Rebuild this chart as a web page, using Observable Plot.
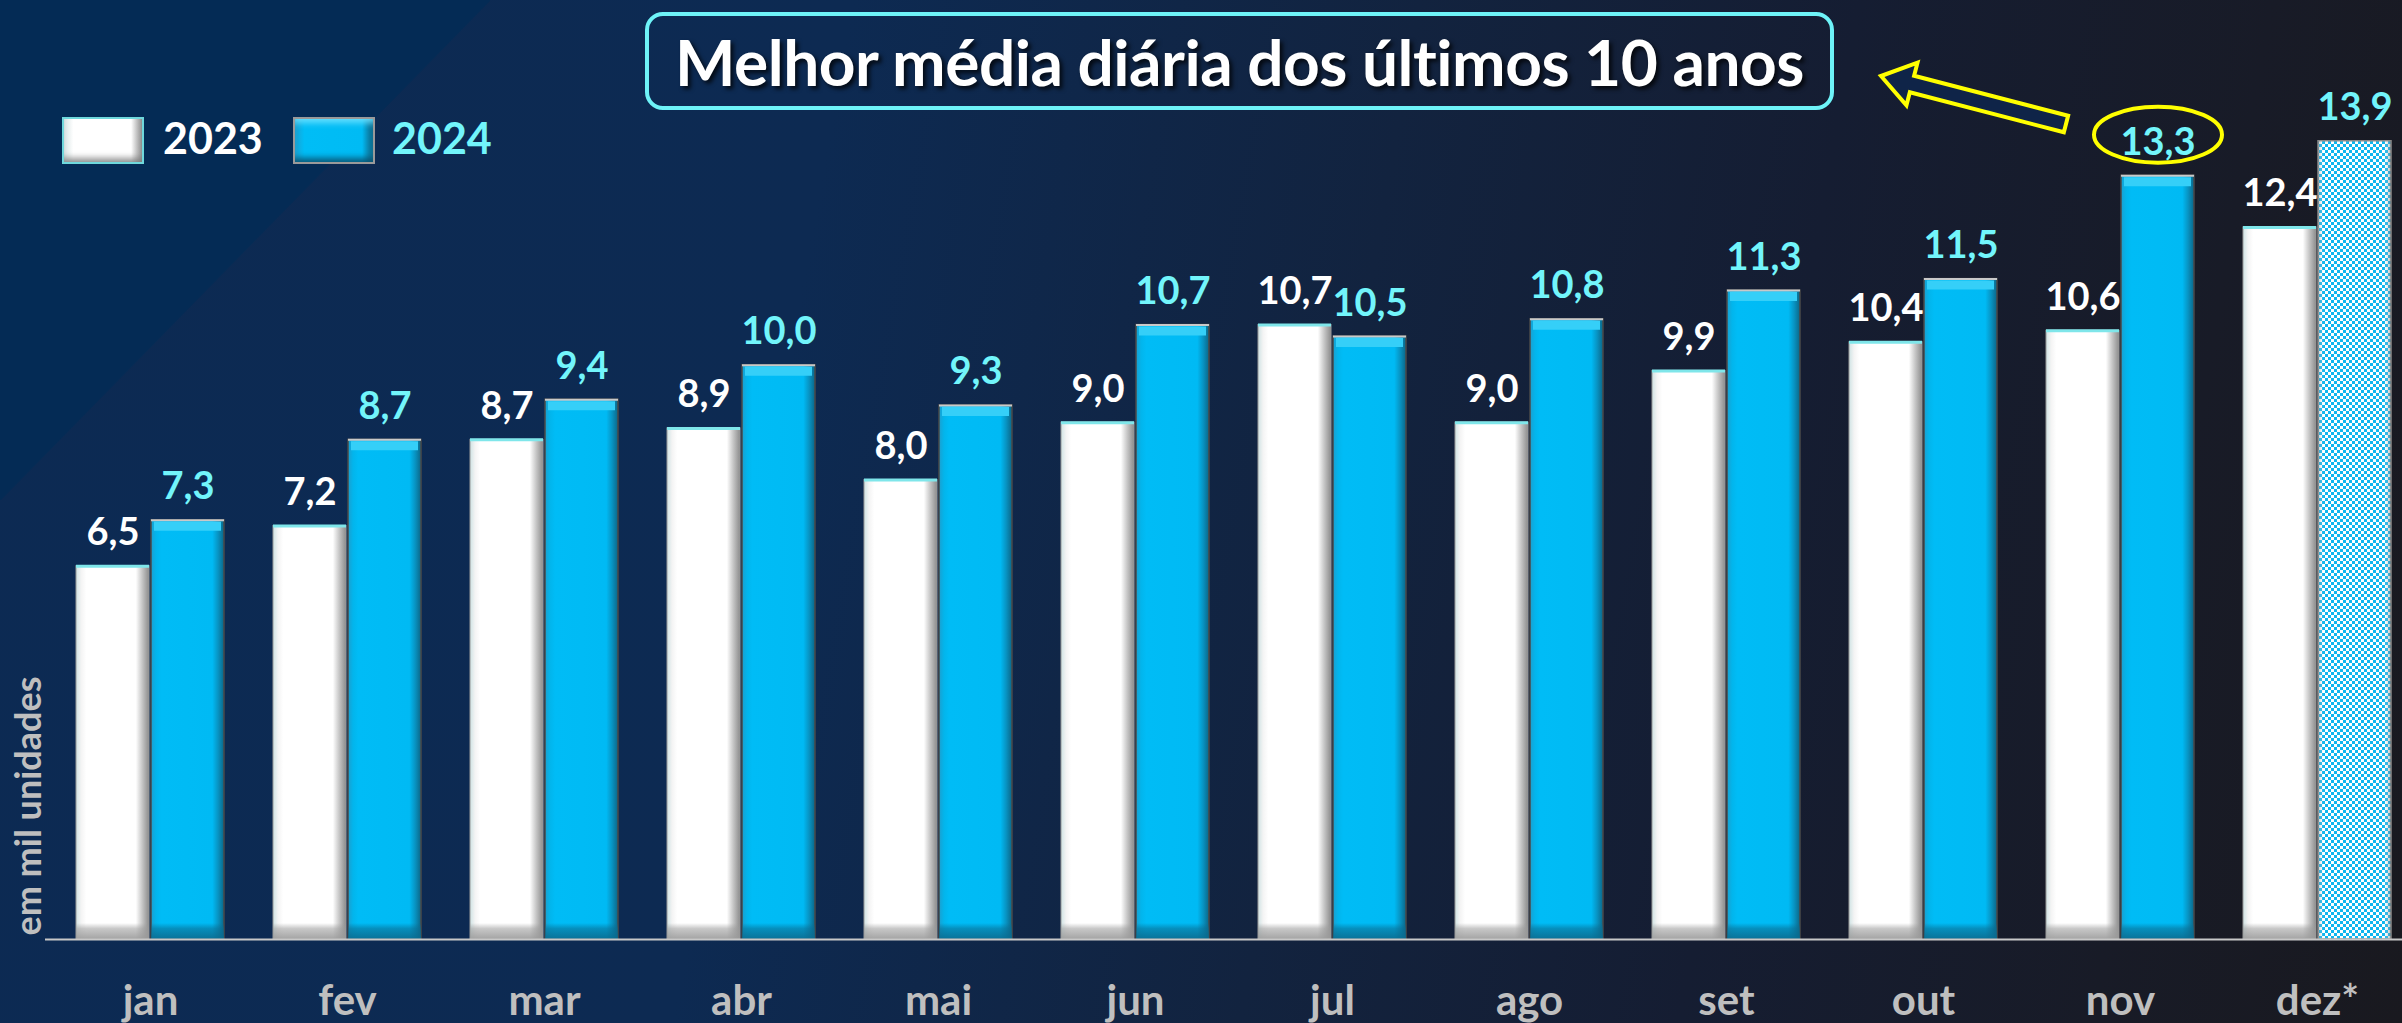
<!DOCTYPE html>
<html>
<head>
<meta charset="utf-8">
<script src="https://cdn.jsdelivr.net/npm/d3@7"></script>
<script src="https://cdn.jsdelivr.net/npm/@observablehq/plot@0.6"></script>
<style>
  html, body { margin: 0; padding: 0; }
  body { width: 2402px; height: 1023px; overflow: hidden; font-family: Lato, "Open Sans", sans-serif; }
  #stage {
    position: relative; width: 2402px; height: 1023px;
    background:
      linear-gradient(to bottom right, #042b55 50%, rgba(4,43,85,0) 50.2%) 0 0 / 490px 500px no-repeat,
      linear-gradient(100deg, #0c2a53 0%, #0d2a52 33%, #12233f 55%, #151d32 72%, #181b27 88%, #19191f 100%);
  }
  #chart { position: absolute; left: 0; top: 0; }
  #title {
    position: absolute; left: 645px; top: 12px; width: 1181px; height: 90px;
    border: 4px solid #6ef3f8; border-radius: 18px;
    display: flex; align-items: center; justify-content: center;
    color: #ffffff; font-weight: 700; font-size: 64px; letter-spacing: -0.5px;
    text-shadow: 3px 3px 4px rgba(0,0,0,0.75);
  }
  .sw { position: absolute; top: 117px; width: 82px; height: 47px; box-sizing: border-box; }
  #sw23 {
    left: 62px; border: 2px solid #6fd8dc;
    background: linear-gradient(to right, #d8e4e4 0%, #ffffff 12%, #ffffff 86%, #bdbdbd 94%, #8f8f8f 100%);
    box-shadow: inset 0 -8px 6px -4px rgba(120,120,120,0.8);
  }
  #sw24 {
    left: 293px; border: 2px solid #9a9a9a;
    background: linear-gradient(to right, #1aa2d3 0%, #00bdf6 12%, #00bbf4 86%, #0a86b0 94%, #0a6a8c 100%);
    box-shadow: inset 0 -8px 6px -4px rgba(10,80,110,0.9), inset 0 8px 6px -4px rgba(110,225,255,0.9);
  }
  .lt { position: absolute; top: 108px; font-size: 43px; font-weight: 700; line-height: 60px; }
  #lt23 { left: 163px; color: #ffffff; }
  #lt24 { left: 392px; color: #72f5fb; }
  #arrow { position: absolute; left: 0; top: 0; pointer-events: none; }
</style>
</head>
<body>
<div id="stage">
  <div id="chart"></div>
  <div id="title">Melhor média diária dos últimos 10 anos</div>
  <div class="sw" id="sw23"></div><div class="lt" id="lt23">2023</div>
  <div class="sw" id="sw24"></div><div class="lt" id="lt24">2024</div>
  <svg id="arrow" width="2402" height="1023"></svg>
</div>
<script>
// ---- data ----
const months = ["jan", "fev", "mar", "abr", "mai", "jun", "jul", "ago", "set", "out", "nov", "dez*"];
const v2023 = [6.5, 7.2, 8.7, 8.9, 8.0, 9.0, 10.7, 9.0, 9.9, 10.4, 10.6, 12.4];
const v2024 = [7.3, 8.7, 9.4, 10.0, 9.3, 10.7, 10.5, 10.8, 11.3, 11.5, 13.3, 13.9];
const highlightMonth = "nov";
const projectedMonth = "dez*";
const yTitle = "em mil unidades";

const rows = months.map((m, i) => ({month: m, v23: v2023[i], v24: v2024[i]}));
const fmt = v => v.toFixed(1).replace(".", ",");

// custom ellipse symbol
const ellipse = {
  draw(ctx) {
    const rx = 64, ry = 28, k = 0.5523;
    ctx.moveTo(rx, 0);
    ctx.bezierCurveTo(rx, ry * k, rx * k, ry, 0, ry);
    ctx.bezierCurveTo(-rx * k, ry, -rx, ry * k, -rx, 0);
    ctx.bezierCurveTo(-rx, -ry * k, -rx * k, -ry, 0, -ry);
    ctx.bezierCurveTo(rx * k, -ry, rx, -ry * k, rx, 0);
    ctx.closePath();
  }
};

const half = 75;
const font = "Lato, 'Open Sans', sans-serif";

const plot = Plot.plot({
  width: 2402,
  height: 1023,
  marginLeft: 45,
  marginRight: 0,
  marginTop: 135,
  marginBottom: 84,
  style: {background: "transparent", fontFamily: font, overflow: "visible"},
  x: {domain: months, paddingInner: 0.247, paddingOuter: 0.0785, align: 0.742, axis: null},
  y: {domain: [0, 14], axis: null},
  marks: [
    // 2023 bars
    Plot.barY(rows, {x: "month", y: "v23", insetRight: half, fill: "url(#whiteGrad)", stroke: "#9a9a9a", strokeWidth: 1}),
    Plot.barY(rows, {x: "month", y: "v23", insetRight: half, fill: "url(#bottomWhite)"}),
    Plot.tickY(rows, {x: "month", y: "v23", insetRight: half, stroke: "#7fe6ea", strokeWidth: 3}),
    // 2024 bars
    Plot.barY(rows, {filter: d => d.month !== projectedMonth, x: "month", y: "v24", insetLeft: half, fill: "url(#blueGrad)", stroke: "#4a4a4a", strokeWidth: 1.5}),
    Plot.barY(rows, {filter: d => d.month !== projectedMonth, x: "month", y: "v24", insetLeft: half, fill: "url(#bottomBlue)"}),
    Plot.tickY(rows, {filter: d => d.month !== projectedMonth, x: "month", y: "v24", insetLeft: half + 3, insetRight: 3, dy: 6, stroke: "#35cff8", strokeWidth: 9}),
    Plot.tickY(rows, {filter: d => d.month !== projectedMonth, x: "month", y: "v24", insetLeft: half, stroke: "#c9c9c9", strokeWidth: 2}),
    Plot.barY(rows, {filter: d => d.month === projectedMonth, x: "month", y: "v24", insetLeft: half, fill: "url(#checker)", stroke: "#8a8a8a", strokeWidth: 1.5}),
    Plot.barY(rows, {filter: d => d.month === projectedMonth, x: "month", y: "v24", insetLeft: half, fill: "url(#edgeShade)"}),
    // baseline
    Plot.ruleY([0], {stroke: "#c8c8c8", strokeWidth: 2}),
    // value labels
    Plot.text(rows, {x: "month", y: "v23", text: d => fmt(d.v23), dx: -half / 2, dy: -21, lineAnchor: "bottom", fill: "#ffffff", fontSize: 38, fontWeight: 700}),
    Plot.text(rows, {x: "month", y: "v24", text: d => fmt(d.v24), dx: half / 2, dy: -21, lineAnchor: "bottom", fill: "#72f5fb", fontSize: 38, fontWeight: 700}),
    // highlight ellipse
    Plot.dot(rows, {filter: d => d.month === highlightMonth, x: "month", y: "v24", dx: half / 2, dy: -41, symbol: ellipse, r: 10, fill: "none", stroke: "#ffff00", strokeWidth: 4}),
    // month axis
    Plot.axisX({tickSize: 0, tickPadding: 46, fontSize: 42, fontWeight: 700, fill: "#bfbfbf", label: null}),
    // y title
    Plot.text([yTitle], {frameAnchor: "bottom-left", rotate: -90, textAnchor: "start", lineAnchor: "middle", dx: -16, dy: -4, fill: "#bfbfbf", fontSize: 36, fontWeight: 700})
  ]
});

// gradients & patterns
const svg = d3.select(plot);
const defs = svg.insert("defs", ":first-child");
function hGrad(id, stops) {
  const g = defs.append("linearGradient").attr("id", id).attr("x1", 0).attr("x2", 1).attr("y1", 0).attr("y2", 0);
  stops.forEach(([o, c, a]) => g.append("stop").attr("offset", o).attr("stop-color", c).attr("stop-opacity", a == null ? 1 : a));
}
hGrad("whiteGrad", [[0, "#cfe3e4"], [0.07, "#f4f4f4"], [0.14, "#ffffff"], [0.82, "#ffffff"], [0.91, "#c4c4c4"], [1, "#8c8c8c"]]);
hGrad("blueGrad", [[0, "#1b9fcf"], [0.07, "#02b5ec"], [0.14, "#00bcf6"], [0.84, "#00baf4"], [0.92, "#0893c2"], [1, "#0b6687"]]);
hGrad("edgeShade", [[0, "#777", 0.45], [0.08, "#fff", 0], [0.9, "#fff", 0], [1, "#666", 0.5]]);

const y0 = plot.scale("y").apply(0);
function vGrad(id, c) {
  const g = defs.append("linearGradient").attr("id", id).attr("gradientUnits", "userSpaceOnUse")
    .attr("x1", 0).attr("x2", 0).attr("y1", y0 - 16).attr("y2", y0);
  g.append("stop").attr("offset", 0).attr("stop-color", c).attr("stop-opacity", 0);
  g.append("stop").attr("offset", 0.35).attr("stop-color", c).attr("stop-opacity", 0.55);
  g.append("stop").attr("offset", 1).attr("stop-color", c).attr("stop-opacity", 0.9);
}
vGrad("bottomWhite", "#9a9a9a");
vGrad("bottomBlue", "#0a6a8e");

const pat = defs.append("pattern").attr("id", "checker").attr("patternUnits", "userSpaceOnUse").attr("width", 6).attr("height", 6);
pat.append("rect").attr("width", 6).attr("height", 6).attr("fill", "#0fb6ee");
pat.append("rect").attr("width", 3).attr("height", 3).attr("fill", "#ffffff");
pat.append("rect").attr("x", 3).attr("y", 3).attr("width", 3).attr("height", 3).attr("fill", "#ffffff");

document.getElementById("chart").appendChild(plot);

// block arrow pointing from the highlighted value to the title box
(function () {
  const tip = [1881, 76], tail = [2066, 124];
  const dx = tip[0] - tail[0], dy = tip[1] - tail[1];
  const L = Math.hypot(dx, dy), ang = Math.atan2(dy, dx) * 180 / Math.PI;
  const sh = 8.5, hh = 22, hl = 32;
  const pts = [[0, -sh], [L - hl, -sh], [L - hl, -hh], [L, 0], [L - hl, hh], [L - hl, sh], [0, sh]];
  d3.select("#arrow").append("polygon")
    .attr("points", pts.map(p => p.join(",")).join(" "))
    .attr("transform", `translate(${tail[0]},${tail[1]}) rotate(${ang})`)
    .attr("fill", "#0f2448").attr("stroke", "#ffff00").attr("stroke-width", 4).attr("stroke-linejoin", "miter");
})();
</script>
</body>
</html>
